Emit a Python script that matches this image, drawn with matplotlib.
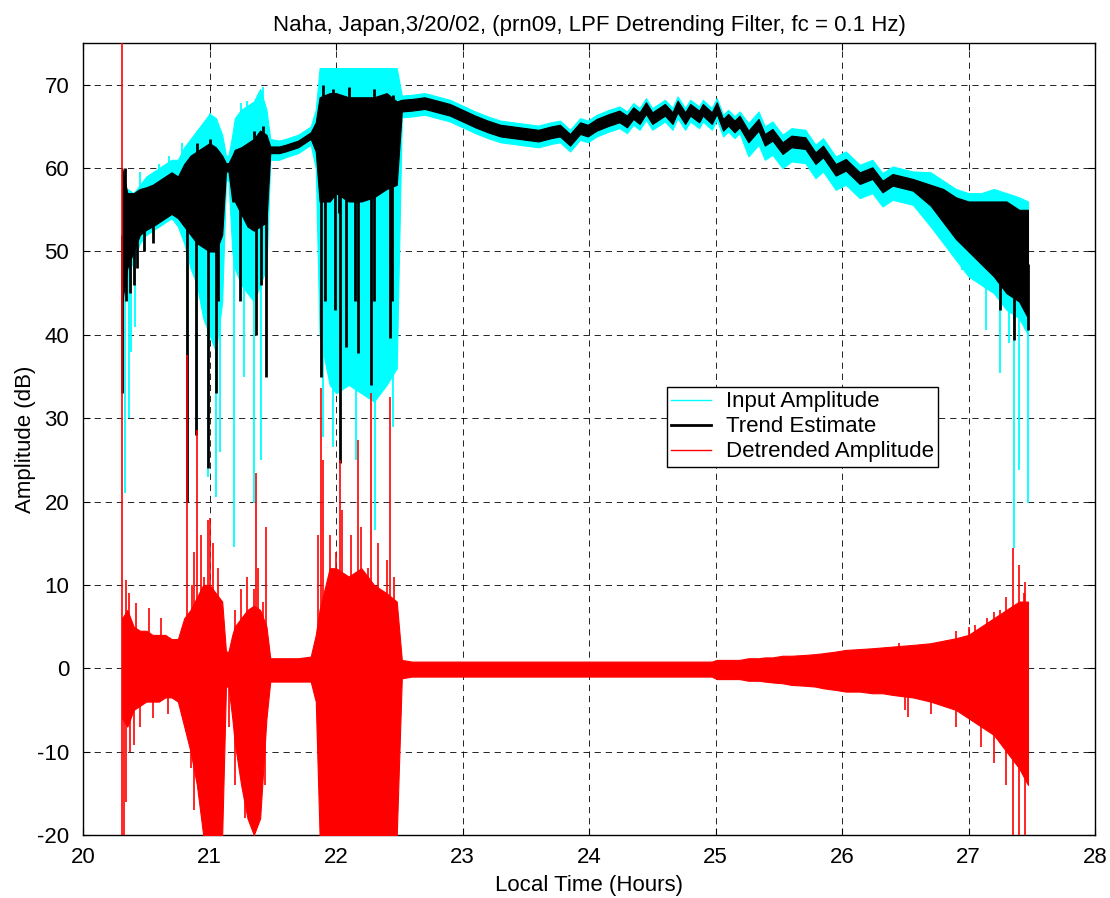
import numpy as np
import matplotlib
matplotlib.use("Agg")
import matplotlib.pyplot as plt
from matplotlib.lines import Line2D

plt.rcParams['font.family'] = ['Liberation Sans', 'DejaVu Sans']
plt.rcParams['lines.scale_dashes'] = False
plt.rcParams['axes.unicode_minus'] = False

# ---- envelope knots (hours / dB) ----
hours = ([20.31, 20.35, 20.4, 20.45, 20.5, 20.55, 20.6, 20.65, 20.7, 20.75, 20.8]
         + [20.85, 20.9, 20.95, 21.0, 21.05, 21.1, 21.13, 21.15, 21.18, 21.2, 21.25, 21.3, 21.35, 21.4, 21.45]
         + [21.48, 21.55, 21.6, 21.7, 21.8, 21.84]
         + [21.87, 21.95, 22.0, 22.1, 22.2, 22.3, 22.4, 22.48]
         + [22.52, 22.6, 22.7, 22.8, 22.9, 23.0, 23.1, 23.2, 23.3, 23.4, 23.5, 23.6, 23.7]
         + [23.77, 23.85, 23.93, 23.99, 24.06, 24.16, 24.24, 24.3, 24.35, 24.4,
            24.45, 24.5, 24.6, 24.66, 24.7, 24.76, 24.8, 24.87, 24.9, 24.97,
            25.01, 25.06, 25.1, 25.15, 25.19, 25.26, 25.34, 25.39, 25.45, 25.53,
            25.6, 25.71, 25.79, 25.85, 25.95, 26.03, 26.14, 26.24, 26.32, 26.4, 26.56]
         + [26.7, 26.8, 26.9, 27.0, 27.1, 27.2, 27.3, 27.4, 27.47])

# input amplitude (cyan) envelope
input_hi = ([58, 57.5, 57, 58, 59, 59.5, 60, 60.5, 61, 61, 62.5]
            + [63.5, 64.5, 65.5, 66.5, 66, 64, 61.5, 61.5, 64, 66, 67, 67.5, 68, 69.5, 67]
            + [63.5, 63.3, 63.5, 64, 65, 67]
            + [72, 72, 72, 72, 72, 72, 72, 72]
            + [68.7, 68.8, 69.0, 68.6, 68.2, 67.5, 66.8, 66.2, 65.7, 65.5, 65.3, 65.1, 65.5]
            + [65.7, 64.6, 66.0, 65.7, 66.4, 67.0, 67.4, 66.8, 67.8, 67.2,
               68.4, 67.2, 68.2, 67.2, 68.6, 67.2, 68.2, 67.4, 68.2, 67.2,
               68.4, 66.4, 67.0, 66.2, 66.8, 65.4, 66.8, 65.0, 65.6, 64.0,
               64.8, 64.6, 62.8, 63.6, 61.4, 62.0, 60.4, 61.0, 59.4, 60.2, 59.6]
            + [59.5, 58.5, 57.5, 57, 57, 57.5, 57, 56.5, 56])
input_lo = ([46, 47, 49, 51, 52, 52.5, 53, 53.5, 54, 53, 51]
            + [48, 46, 42, 40, 38, 44, 58.5, 58.5, 50, 48, 46, 45, 44, 46, 48]
            + [61, 61, 61.3, 61.8, 62.8, 60]
            + [40, 34, 33, 34, 33, 32, 34, 36]
            + [66.1, 66.2, 66.4, 66.0, 65.6, 64.9, 64.2, 63.6, 63.1, 62.9, 62.7, 62.5, 62.9]
            + [63.1, 62.0, 63.4, 63.1, 63.8, 64.4, 64.8, 64.2, 65.2, 64.6,
               65.8, 64.6, 65.6, 64.6, 66.0, 64.6, 65.6, 64.8, 65.6, 64.6,
               65.8, 63.8, 64.4, 63.6, 64.2, 61.4, 62.8, 61.0, 61.6, 60.0,
               60.8, 60.6, 58.8, 59.6, 57.4, 58.0, 56.4, 57.0, 55.4, 56.2, 55.6]
            + [53, 51, 49, 47, 46, 45, 43, 42, 40])

# trend estimate (black) envelope
trend_hi = ([60, 57, 57, 57.5, 57.7, 58, 58.5, 59, 59.5, 59, 60.5]
            + [61.5, 62, 62.5, 63, 62.5, 61.5, 60.6, 60.6, 61.5, 62.2, 62.5, 63, 63.5, 64.5, 64]
            + [62.6, 62.6, 62.8, 63.3, 64.3, 65.5]
            + [68.5, 69, 69, 68.5, 68.5, 68.5, 69, 68]
            + [68.2, 68.3, 68.5, 68.1, 67.7, 67.0, 66.3, 65.7, 65.2, 65.0, 64.8, 64.6, 65.0]
            + [65.2, 64.1, 65.5, 65.2, 65.9, 66.5, 66.9, 66.3, 67.3, 66.7,
               67.9, 66.7, 67.7, 66.7, 68.1, 66.7, 67.7, 66.9, 67.7, 66.7,
               67.9, 65.9, 66.5, 65.7, 66.3, 64.5, 65.9, 64.1, 64.7, 63.1,
               63.9, 63.7, 61.9, 62.7, 60.5, 61.1, 59.5, 60.1, 58.5, 59.3, 58.7]
            + [58, 57.5, 56.5, 56, 56, 56, 56, 55, 55])
trend_lo = ([44, 48, 50, 52, 52.6, 53, 53.5, 54, 54.5, 54, 53]
            + [52, 51, 50.5, 50, 50, 52, 59.6, 59.6, 56, 56, 54.5, 53, 52.5, 53, 53.5]
            + [61.8, 61.8, 62.0, 62.5, 63.5, 62]
            + [56, 56, 57, 56, 56, 56.5, 57.5, 58]
            + [66.8, 66.9, 67.1, 66.7, 66.3, 65.6, 64.9, 64.3, 63.8, 63.6, 63.4, 63.2, 63.6]
            + [63.8, 62.7, 64.1, 63.8, 64.5, 65.1, 65.5, 64.9, 65.9, 65.3,
               66.5, 65.3, 66.3, 65.3, 66.7, 65.3, 66.3, 65.5, 66.3, 65.3,
               66.5, 64.5, 65.1, 64.3, 64.9, 63.1, 64.5, 62.7, 63.3, 61.7,
               62.5, 62.3, 60.5, 61.3, 59.1, 59.7, 58.1, 58.7, 57.1, 57.9, 57.3]
            + [55.5, 53.5, 51.5, 50, 48.5, 47, 45, 44, 42])

# detrended amplitude (red) envelope
detr_hi = ([6, 7, 5, 4.5, 4.5, 4, 4, 4, 3.5, 3.5, 6]
           + [7, 8.5, 10, 10, 9, 8, 2, 2, 4, 5, 6, 7, 7.5, 7, 5]
           + [1.2, 1.2, 1.2, 1.2, 1.4, 4]
           + [7, 12, 12, 11, 12, 10, 9, 8]
           + [1, 0.8, 0.8, 0.8, 0.8, 0.8, 0.8, 0.8, 0.8, 0.8, 0.8, 0.8, 0.8]
           + [0.8, 0.8, 0.8, 0.8, 0.8, 0.8, 0.8, 0.8, 0.8, 0.8,
              0.8, 0.8, 0.8, 0.8, 0.8, 0.8, 0.8, 0.8, 0.8, 0.8,
              1.0, 1.0, 1.0, 1.0, 1.0, 1.2, 1.2, 1.3, 1.3, 1.5,
              1.5, 1.6, 1.7, 1.8, 2.0, 2.2, 2.3, 2.4, 2.5, 2.6, 2.8]
           + [3.0, 3.3, 3.6, 4, 5, 6, 7, 8, 8])
detr_lo = ([-6, -7, -5, -4.5, -4, -4, -4, -3.5, -3.5, -4, -7]
           + [-10, -14, -20, -20, -20, -20, -2.2, -2.2, -6, -9, -14, -18, -20, -18, -6]
           + [-1.6, -1.6, -1.6, -1.6, -1.6, -4]
           + [-20, -20, -20, -20, -20, -20, -20, -20]
           + [-1.2, -1.0, -1.0, -1.0, -1.0, -1.0, -1.0, -1.0, -1.0, -1.0, -1.0, -1.0, -1.0]
           + [-1.0, -1.0, -1.0, -1.0, -1.0, -1.0, -1.0, -1.0, -1.0, -1.0,
              -1.0, -1.0, -1.0, -1.0, -1.0, -1.0, -1.0, -1.0, -1.0, -1.0,
              -1.3, -1.3, -1.3, -1.3, -1.3, -1.5, -1.5, -1.6, -1.7, -1.8,
              -2.0, -2.1, -2.2, -2.4, -2.6, -2.8, -2.8, -3.0, -3.0, -3.2, -3.5]
           + [-4, -4.5, -5, -6, -7, -8, -10, -12, -14])

# isolated fades / peaks
input_fade_t = [20.33, 20.36, 20.38, 20.41, 20.82, 20.9, 20.99, 21.05, 21.08, 21.19,
                21.27, 21.35, 21.41, 21.9, 21.98, 22.16, 22.31, 22.45,
                26.95, 27.14, 27.25, 27.32, 27.36, 27.4, 27.47]
input_fade = [21, 30, 38, 41, 20, 28, 23, 20.5, 26, 14.5,
              35, 19.8, 25, 27.7, 26.5, 25, 16.6, 29,
              47.8, 40.6, 35.4, 39, 14.4, 23.8, 19.8]
input_peak_t = [20.45, 20.6, 20.68, 20.78, 20.9, 21.0, 21.05, 21.25, 21.3, 21.42, 21.44]
input_peak = [59.5, 60.5, 61.5, 63, 64.5, 66.6, 66, 67.8, 68, 69.7, 67]

trend_fade_t = [20.31, 20.34, 20.37, 20.4, 20.43, 20.48, 20.55, 20.82, 20.89, 20.99,
                21.05, 21.07, 21.24, 21.37, 21.41, 21.45,
                21.88, 21.91, 21.99, 22.02, 22.03, 22.08, 22.15, 22.17, 22.28, 22.3,
                22.43, 22.44, 27.25, 27.36, 27.47]
trend_fade = [33, 44, 45, 46, 48, 50, 51, 20, 28, 24,
              33, 44, 44, 40, 46, 35,
              35, 44, 43, 54.6, 24.6, 38.5, 44, 37.8, 34, 44,
              39.6, 44, 43, 39.4, 40.6]
trend_peak_t = [20.33, 20.9, 21.0, 21.35, 21.42, 21.9, 21.98, 22.1, 22.3, 22.45]
trend_peak = [60, 63, 63.5, 64.5, 65, 70, 69.5, 69.7, 69.5, 68.8]

detr_peak_t = [20.31, 20.34, 20.36, 20.42, 20.52, 20.62, 20.82, 20.86, 20.88, 20.9,
               20.93, 20.96, 20.99, 21.0, 21.03, 21.07, 21.2, 21.25, 21.3, 21.35,
               21.37, 21.38, 21.42, 21.45, 21.86, 21.88, 21.9, 21.95, 22.0, 22.03,
               22.05, 22.12, 22.17, 22.2, 22.25, 22.28, 22.33, 22.4, 22.43, 22.46,
               26.45, 26.9, 27.0, 27.05, 27.15, 27.2, 27.25, 27.3, 27.35, 27.4, 27.44, 27.45]
detr_peak = [76, 10.6, 9, 7.8, 7.2, 6, 37.6, 10, 14, 28.6,
             16, 11, 17.8, 18, 15, 12, 7, 9.5, 11, 9.5,
             23.4, 12, 8, 17, 16, 33.6, 25, 16, 14, 25,
             19, 16, 27.4, 17, 12, 33, 15, 13, 32.5, 11,
             3, 4.5, 5, 5.2, 6, 6.8, 7, 8.5, 14.4, 12.4, 9, 10.3]
detr_dip_t = [20.31, 20.32, 20.34, 20.37, 20.4, 20.45, 20.55, 20.67, 20.85, 20.88,
              21.15, 21.2, 21.22, 21.28, 21.44, 21.86,
              25.57, 25.78, 25.93, 26.22, 26.5, 26.52, 26.7, 26.9, 27.1, 27.2,
              27.3, 27.35, 27.4, 27.45]
detr_dip = [-21, -21, -16, -10, -9.2, -7, -6, -5.5, -12, -17,
            -7, -14, -9, -18, -14, -9,
            -1.8, -2.3, -2.4, -2.6, -5, -5.8, -5.5, -7, -9.4, -11.4,
            -14, -21, -21, -21]


def mid(t, hi, lo):
    return np.interp(t, hours, (np.asarray(hi) + np.asarray(lo)) / 2)


fig = plt.figure(figsize=(11.1, 8.98), dpi=100)
ax = fig.add_axes([0.0748, 0.0702, 0.9117, 0.8818])

# input amplitude
ax.fill_between(hours, input_lo, input_hi, color='cyan', lw=0.8, zorder=2)
ax.vlines(input_fade_t, input_fade, mid(input_fade_t, input_hi, input_lo), color='cyan', lw=1.3, zorder=2)
ax.vlines(input_peak_t, mid(input_peak_t, input_hi, input_lo), input_peak, color='cyan', lw=1.3, zorder=2)

# trend estimate
ax.fill_between(hours, trend_lo, trend_hi, color='black', lw=0.8, zorder=3)
ax.vlines(trend_fade_t, trend_fade, mid(trend_fade_t, trend_hi, trend_lo), color='black', lw=2, zorder=3)
ax.vlines(trend_peak_t, mid(trend_peak_t, trend_hi, trend_lo), trend_peak, color='black', lw=2, zorder=3)

# detrended amplitude
ax.fill_between(hours, detr_lo, detr_hi, color='red', lw=0.8, zorder=4)
ax.vlines(detr_peak_t, 0, detr_peak, color='red', lw=1.2, zorder=4)
ax.vlines(detr_dip_t, detr_dip, 0, color='red', lw=1.2, zorder=4)

ax.set_xlim(20, 28)
ax.set_ylim(-20, 75)
ax.set_xticks(range(20, 29))
ax.set_yticks(range(-20, 71, 10))
ax.tick_params(direction='in', top=True, right=True, length=5, labelsize=16)
ax.tick_params(axis='x', pad=9)
ax.tick_params(axis='y', pad=10)
ax.grid(True, color='black', lw=0.6, linestyle=(0, (4.5, 3.5)))
ax.set_axisbelow(True)
for s in ax.spines.values():
    s.set_linewidth(1.0)

ax.set_xlabel('Local Time (Hours)', fontsize=16, labelpad=5)
ax.set_ylabel('Amplitude (dB)', fontsize=16, labelpad=1)
ax.set_title('Naha, Japan,3/20/02, (prn09, LPF Detrending Filter, fc = 0.1 Hz)', fontsize=16, pad=9)

handles = [Line2D([], [], color='cyan', lw=1),
           Line2D([], [], color='black', lw=2),
           Line2D([], [], color='red', lw=1)]
leg = ax.legend(handles, ['Input Amplitude', 'Trend Estimate', 'Detrended Amplitude'],
                loc='lower left', bbox_to_anchor=(0.577, 0.465), fontsize=16,
                fancybox=False, framealpha=1, edgecolor='black',
                borderpad=0.2, labelspacing=0.18, handlelength=1.8, handletextpad=0.65,
                borderaxespad=0)
leg.get_frame().set_linewidth(1.0)

fig.savefig('out.png', dpi=100, facecolor='white')
